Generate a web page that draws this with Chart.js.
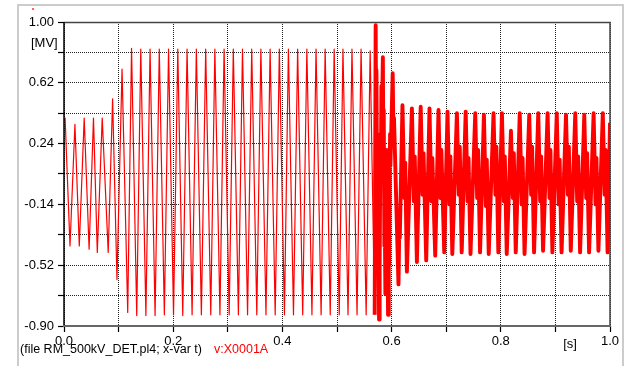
<!DOCTYPE html>
<html>
<head>
<meta charset="utf-8">
<title>v:X0001A</title>
<script src="https://cdn.jsdelivr.net/npm/chart.js@4.4.1/dist/chart.umd.min.js"></script>
<style>
  html, body { margin: 0; padding: 0; background: #fff; }
  canvas { display: block; }
</style>
</head>
<body>
<canvas id="plot" width="629" height="366"></canvas>
<script>
// ---- values: time in s, voltage in MV ----
const yTickValues = [-0.90, -0.71, -0.52, -0.33, -0.14, 0.05, 0.24, 0.43, 0.62, 0.81, 1.00];
const xTickValues = [0.0, 0.1, 0.2, 0.3, 0.4, 0.5, 0.6, 0.7, 0.8, 0.9, 1.0];

// trapped charge / low level stage (0 .. 0.1 s)
const chargeTime = [0.000, 0.002, 0.011, 0.020, 0.028, 0.037, 0.046, 0.054, 0.061, 0.070, 0.081, 0.089, 0.097];
const chargeVolt = [0.38, 0.40, -0.40, 0.36, -0.40, 0.40, -0.42, 0.40, -0.44, 0.40, -0.44, 0.52, -0.61];

// energized stage, peak / trough pairs
const energizedTime = [
  0.1063, 0.1167, 0.1237, 0.1332, 0.1406, 0.1500, 0.1576, 0.1668, 0.1745, 0.1838,
  0.1915, 0.2006, 0.2084, 0.2175, 0.2254, 0.2346, 0.2424, 0.2516, 0.2595, 0.2688,
  0.2763, 0.2856, 0.2932, 0.3025, 0.3101, 0.3194, 0.3269, 0.3362, 0.3438, 0.3531,
  0.3606, 0.3699, 0.3775, 0.3868, 0.3944, 0.4037, 0.4110, 0.4203, 0.4279, 0.4372,
  0.4448, 0.4541, 0.4616, 0.4709, 0.4783, 0.4876, 0.4948, 0.5041, 0.5109, 0.5202,
  0.5274, 0.5367, 0.5441, 0.5534, 0.5607
];
const energizedVolt = [
  0.705, -0.815, 0.835, -0.835, 0.83, -0.835, 0.83, -0.835, 0.83, -0.83,
  0.83, -0.83, 0.83, -0.835, 0.83, -0.83, 0.83, -0.83, 0.83, -0.83,
  0.83, -0.83, 0.83, -0.83, 0.83, -0.83, 0.83, -0.83, 0.83, -0.83,
  0.83, -0.83, 0.83, -0.83, 0.83, -0.83, 0.83, -0.83, 0.83, -0.83,
  0.83, -0.83, 0.83, -0.83, 0.83, -0.83, 0.83, -0.83, 0.83, -0.83,
  0.83, -0.83, 0.83, -0.83, 0.82
];

// switching transient
const faultTime = [
  0.5690, 0.5708, 0.5716, 0.5722, 0.5735, 0.5742, 0.5752, 0.5758, 0.5770, 0.5778,
  0.5784, 0.5797, 0.5803, 0.5814, 0.5820, 0.5840, 0.5850, 0.5856, 0.5868, 0.5874,
  0.5886, 0.5893, 0.5900, 0.5912, 0.5918, 0.5935, 0.5948, 0.5955, 0.5972, 0.5978,
  0.6020, 0.6036, 0.6044, 0.6126, 0.6142, 0.6150
];
const faultVolt = [
  -0.83, 0.98, 0.40, 0.70, -0.10, 0.20, -0.55, -0.30, -0.86, -0.20,
  -0.50, 0.30, 0.05, 0.60, 0.35, 0.78, 0.10, 0.45, -0.40, -0.15,
  -0.70, -0.30, -0.60, 0.20, -0.10, -0.83, -0.38, -0.52, 0.30, 0.10,
  0.68, 0.25, 0.40, -0.64, -0.25, -0.35
];

// after the transient: peak, dip, bump, trough per cycle
const postTime = [
  0.6199, 0.6234, 0.6250, 0.6280,
  0.6372, 0.6407, 0.6424, 0.6463,
  0.6533, 0.6568, 0.6585, 0.6634,
  0.6694, 0.6729, 0.6746, 0.6799,
  0.6859, 0.6894, 0.6911, 0.6964,
  0.7024, 0.7059, 0.7076, 0.7112,
  0.7196, 0.7231, 0.7248, 0.7284,
  0.7357, 0.7392, 0.7409, 0.7445,
  0.7532, 0.7567, 0.7584, 0.7620,
  0.7691, 0.7726, 0.7743, 0.7779,
  0.7867, 0.7902, 0.7919, 0.7955,
  0.8021, 0.8056, 0.8073, 0.8109,
  0.8186, 0.8221, 0.8238, 0.8274,
  0.8347, 0.8382, 0.8399, 0.8435,
  0.8521, 0.8556, 0.8573, 0.8609,
  0.8686, 0.8721, 0.8738, 0.8774,
  0.8857, 0.8892, 0.8909, 0.8945,
  0.9025, 0.9060, 0.9077, 0.9113,
  0.9194, 0.9229, 0.9246, 0.9282,
  0.9364, 0.9399, 0.9416, 0.9452,
  0.9529, 0.9564, 0.9581, 0.9617,
  0.9700, 0.9735, 0.9752, 0.9788,
  0.9868, 0.9903, 0.9920, 0.9956,
  1.0000
];
const postVolt = [
  0.48, -0.10, 0.12, -0.56,
  0.46, -0.12, 0.16, -0.50,
  0.47, -0.08, 0.18, -0.49,
  0.46, -0.12, 0.15, -0.46,
  0.45, -0.10, 0.20, -0.44,
  0.44, -0.14, 0.16, -0.45,
  0.43, -0.08, 0.22, -0.44,
  0.44, -0.12, 0.15, -0.45,
  0.43, -0.10, 0.20, -0.44,
  0.42, -0.15, 0.14, -0.45,
  0.43, -0.08, 0.22, -0.44,
  0.43, -0.12, 0.16, -0.45,
  0.32, -0.10, 0.18, -0.44,
  0.43, -0.14, 0.15, -0.45,
  0.42, -0.08, 0.22, -0.44,
  0.43, -0.12, 0.16, -0.43,
  0.43, -0.10, 0.20, -0.44,
  0.43, -0.14, 0.14, -0.44,
  0.42, -0.08, 0.22, -0.43,
  0.43, -0.12, 0.16, -0.44,
  0.42, -0.10, 0.18, -0.44,
  0.43, -0.14, 0.15, -0.43,
  0.43, -0.08, 0.20, -0.44,
  0.37
];

const TRANSIENT_START = 0.5690;
const FONT = '"Liberation Sans", Arial, sans-serif';

function toPoints(ts, vs) {
  return ts.map((t, i) => ({ x: t, y: vs[i] }));
}

const points = [].concat(
  toPoints(chargeTime, chargeVolt),
  toPoints(energizedTime, energizedVolt),
  toPoints(faultTime, faultVolt),
  toPoints(postTime, postVolt)
);

// frame, units and footer text
const decorations = {
  id: 'decorations',
  beforeDraw(chart) {
    const c = chart.ctx;
    c.save();
    c.fillStyle = '#fff';
    c.fillRect(0, 0, chart.width, chart.height);
    c.strokeStyle = '#cccccc';
    c.lineWidth = 2;
    c.strokeRect(18, 5, 605, 400);
    c.fillStyle = '#ff6060';
    c.fillRect(32, 8, 2, 2);
    c.restore();
  },
  afterDraw(chart) {
    const c = chart.ctx;
    const a = chart.chartArea;
    c.save();
    // plot box
    c.lineWidth = 1.5;
    c.strokeStyle = '#444';
    c.beginPath();
    c.moveTo(a.left, a.top + 0.5);
    c.lineTo(a.right, a.top + 0.5);
    c.lineTo(a.right, a.bottom);
    c.stroke();
    c.strokeStyle = '#000';
    c.beginPath();
    c.moveTo(a.left, a.top);
    c.lineTo(a.left, a.bottom);
    c.stroke();
    c.lineWidth = 2;
    c.strokeStyle = '#666';
    c.beginPath();
    c.moveTo(a.left - 1, a.bottom);
    c.lineTo(a.right + 1, a.bottom);
    c.stroke();

    c.font = '13px ' + FONT;
    c.fillStyle = '#000';
    c.textBaseline = 'middle';
    c.textAlign = 'left';
    c.fillText('[MV]', 31, 43);
    c.textAlign = 'center';
    c.fillText('[s]', a.right - 40, 344);

    c.font = '12.5px ' + FONT;
    c.textBaseline = 'alphabetic';
    c.textAlign = 'left';
    const footer = '(file RM_500kV_DET.pl4; x-var t)';
    c.fillText(footer, 20, 353);
    c.fillStyle = '#ff0000';
    c.fillText('v:X0001A', 20 + c.measureText(footer).width + 12, 353);
    c.restore();
  }
};

new Chart(document.getElementById('plot').getContext('2d'), {
  type: 'line',
  data: {
    datasets: [{
      label: 'v:X0001A',
      data: points,
      borderColor: '#ff0000',
      borderWidth: 1.2,
      borderJoinStyle: 'round',
      pointRadius: 0,
      tension: 0,
      segment: {
        borderWidth: ctx => ctx.p0.parsed.x >= TRANSIENT_START ? 3.9 : 1.2
      }
    }]
  },
  options: {
    responsive: false,
    animation: false,
    layout: { padding: { top: 22, right: 19, left: 0, bottom: 0 } },
    plugins: { legend: { display: false }, tooltip: { enabled: false } },
    scales: {
      x: {
        type: 'linear',
        min: 0,
        max: 1,
        afterFit: s => { s.height = 40; },
        afterBuildTicks: s => { s.ticks = xTickValues.map(v => ({ value: v })); },
        grid: { color: '#222', lineWidth: 1, tickLength: 6, tickColor: '#000', tickWidth: 1.2, tickBorderDash: [] },
        border: { display: false, dash: [1, 1] },
        ticks: {
          autoSkip: false,
          maxRotation: 0,
          padding: 2,
          color: '#000',
          font: { family: FONT, size: 13 },
          callback: (v, i) => i % 2 === 0 ? xTickValues[i].toFixed(1) : ''
        }
      },
      y: {
        min: -0.9,
        max: 1.0,
        afterFit: s => { s.width = 64; },
        afterBuildTicks: s => { s.ticks = yTickValues.map(v => ({ value: v })); },
        grid: { color: '#222', lineWidth: 1, tickLength: 6, tickColor: '#000', tickWidth: 1.2, tickBorderDash: [] },
        border: { display: false, dash: [1, 1] },
        ticks: {
          autoSkip: false,
          padding: 4,
          color: '#000',
          font: { family: FONT, size: 13 },
          callback: (v, i) => i % 2 === 0 ? yTickValues[i].toFixed(2) : ''
        }
      }
    }
  },
  plugins: [decorations]
});
</script>
</body>
</html>
